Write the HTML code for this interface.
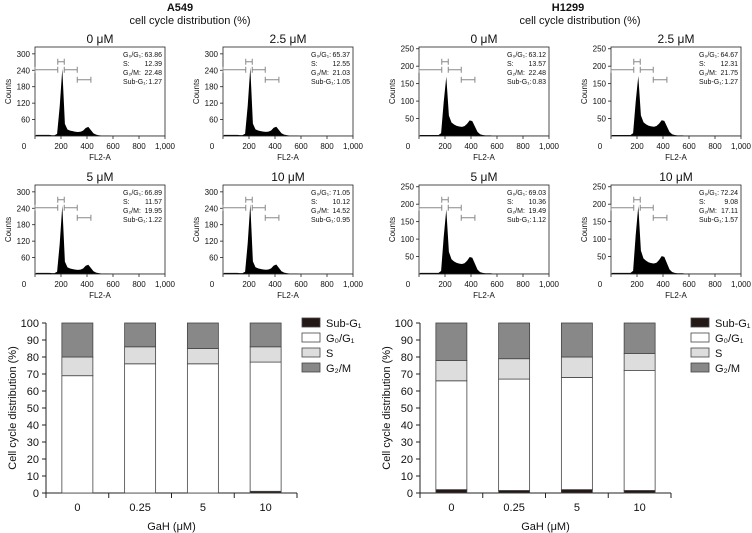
<!DOCTYPE html>
<html><head><meta charset="utf-8"><style>
html,body{margin:0;padding:0;background:#fff}
svg{display:block;font-family:"Liberation Sans",Arial,sans-serif}
</style></head><body>
<svg id="c" width="752" height="533" viewBox="0 0 752 533"></svg>
<script>
// ---- histogram data (counts per 20-unit FL2-A bin, 0..1000) ----
const histShapeA = [4,4,4,4,4,4,3,3,8,110,250,45,24,20,18,16,15,16,20,30,34,22,10,5,3,2,2,2,2,1,1,1,1,1,1,1,1,1,1,1,1,1,1,1,1,1,1,1,1,1];
const histShapeH = [3,3,3,3,3,3,3,3,8,100,175,60,40,34,30,28,27,29,36,46,44,28,12,5,3,2,2,2,1,1,1,1,1,1,1,1,1,1,1,1,1,1,1,1,1,1,1,1,1,1];
const panelTitles = ["0 μM","2.5 μM","5 μM","10 μM"];
const statsA = [["63.86","12.39","22.48","1.27"],["65.37","12.55","21.03","1.05"],["66.89","11.57","19.95","1.22"],["71.05","10.12","14.52","0.95"]];
const statsH = [["63.12","13.57","22.48","0.83"],["64.67","12.31","21.75","1.27"],["69.03","10.36","19.49","1.12"],["72.24","9.08","17.11","1.57"]];
const peaksA = [245,250,250,255];
const peaksH = [170,172,185,195];
const yTicksA = [60,120,180,240,300];
const yTicksH = [50,100,150,200,250];
const xTicks = [0,200,400,600,800,1000];
const xTickLabels = ["0","200","400","600","800","1,000"];
// ---- bar chart data (%) ----
const barCats = ["0","0.25","5","10"];
const subA = [0,0,0,1];
const g1A = [69,76,76,76];
const sA = [11,10,9,9];
const subH = [2,1.5,2,1.5];
const g1H = [64,65.5,66,70.5];
const sH = [12,12,12,10];
const barTicks = [0,10,20,30,40,50,60,70,80,90,100];

const svg=document.getElementById('c');
const NS="http://www.w3.org/2000/svg";
function mk(tag,at,parent){const e=document.createElementNS(NS,tag);for(const k in at)e.setAttribute(k,at[k]);(parent||svg).appendChild(e);return e;}
function txt(x,y,s,size,anchor,parent,extra){const t=mk('text',Object.assign({x:x,y:y,'font-size':size,'text-anchor':anchor||'start',fill:'#111'},extra||{}),parent);t.textContent=s;return t;}

let t;
t=txt(180,11,"A549",11,'middle',null,{'font-weight':'bold'});

t=txt(190,24,"cell cycle distribution (%)",11,'middle');

t=txt(568,11,"H1299",11,'middle',null,{'font-weight':'bold'});

t=txt(580,24,"cell cycle distribution (%)",11,'middle');


function histogram(bx,by,idx,shape,peak,ymax,yt,stats,name){
  const w=130,h=89;
  const g=mk('g',{});
  
  
  const X=v=>bx+v/1000*w, Y=v=>by+h-v/ymax*h;
  txt(bx+w/2,by-4,panelTitles[idx],12,'middle',g);
  const sm=Math.max(...shape);
  let d="M"+X(0)+","+Y(0);
  shape.forEach((c,i)=>{const v=c/sm*peak;d+=" L"+X(i*20+10)+","+Y(v);});
  d+=" L"+X(1000)+","+Y(0)+" Z";
  const p=mk('path',{d:d,fill:'#000'},g);
  
  
  mk('rect',{x:bx,y:by,width:w,height:h,fill:'none',stroke:'#222','stroke-width':0.8},g);
  yt.forEach(v=>{mk('line',{x1:bx-3,x2:bx,y1:Y(v),y2:Y(v),stroke:'#222','stroke-width':0.8},g);txt(bx-5,Y(v)+3,String(v),8,'end',g);});
  xTicks.forEach((v,i)=>{mk('line',{x1:X(v),x2:X(v),y1:by+h,y2:by+h+3,stroke:'#222','stroke-width':0.8},g);txt(i==0?bx-11:X(v),by+h+13,xTickLabels[i],8,'middle',g);});
  txt(bx+w/2,by+h+24,"FL2-A",8,'middle',g);
  txt(0,0,"Counts",8,'middle',g,{transform:`translate(${bx-24},${by+h/2}) rotate(-90)`});
  const gy=Y(ymax*0.745);
  const gates=[[0,175,gy],[175,225,gy-8],[225,325,gy],[325,430,gy+10]];
  gates.forEach(q=>{mk('path',{d:`M${X(q[0])},${q[2]} H${X(q[1])} M${X(q[0])},${q[2]-3} V${q[2]+3} M${X(q[1])},${q[2]-3} V${q[2]+3}`,stroke:'#888',fill:'none','stroke-width':1},g);});
  const labs=["G₀/G₁:","S:","G₂/M:","Sub-G₁:"];
  labs.forEach((l,i)=>{txt(bx+w-42,by+10+i*9,l,7,'start',g);txt(bx+w-3,by+10+i*9,stats[i],7,'end',g);});
}
const cols=[35,223,419,611],rows=[47,185];
for(let i=0;i<4;i++){
  histogram(cols[i%2],rows[Math.floor(i/2)],i,histShapeA,peaksA[i],325,yTicksA,statsA[i],'a549-histogram-'+i);
  histogram(cols[2+i%2],rows[Math.floor(i/2)],i,histShapeH,peaksH[i],255,yTicksH,statsH[i],'h1299-histogram-'+i);
}

function barChart(x0,x1,sub,g1,s,name,legX){
  const y0=493,y100=323;
  const g=mk('g',{});
  
  
  const Y=v=>y0-(v/100)*(y0-y100);
  const step=(x1-x0)/barCats.length, bw=31;
  mk('line',{x1:x0,x2:x0,y1:y100,y2:y0,stroke:'#222','stroke-width':1},g);
  mk('line',{x1:x0,x2:x1,y1:y0,y2:y0,stroke:'#222','stroke-width':1},g);
  barTicks.forEach(v=>{mk('line',{x1:x0-4,x2:x0,y1:Y(v),y2:Y(v),stroke:'#222'},g);txt(x0-7,Y(v)+4,String(v),11,'end',g);});
  for(let i=0;i<=barCats.length;i++)mk('line',{x1:x0+i*step,x2:x0+i*step,y1:y0,y2:y0+5,stroke:'#222'},g);
  barCats.forEach((c,i)=>{
    const cx=x0+step*(i+0.5), bx=cx-bw/2;
    const segs=[[0,sub[i],'#231815','sub-g1'],[sub[i],sub[i]+g1[i],'#fff','g0-g1'],[sub[i]+g1[i],sub[i]+g1[i]+s[i],'#ddd','s-phase'],[sub[i]+g1[i]+s[i],100,'#888','g2-m']];
    segs.forEach(sg=>{
      const r=mk('rect',{x:bx,y:Y(sg[1]),width:bw,height:Math.max(0,Y(sg[0])-Y(sg[1])),fill:sg[2],stroke:'#444','stroke-width':0.8},g);
      
      
    });
    txt(cx,y0+18,c,11,'middle',g);
  });
  txt((x0+x1)/2,y0+37,"GaH (μM)",11,'middle',g);
  txt(0,0,"Cell cycle distribution (%)",11,'middle',g,{transform:`translate(${x0-30},${(y0+y100)/2}) rotate(-90)`});
  const leg=[['#231815','Sub-G₁'],['#fff','G₀/G₁'],['#ddd','S'],['#888','G₂/M']];
  leg.forEach((l,i)=>{
    const r=mk('rect',{x:legX,y:318+i*15,width:18,height:9,fill:l[0],stroke:'#444','stroke-width':0.8},g);
    
    
    txt(legX+24,327+i*15,l[1],11,'start',g);
  });
}
barChart(46,297,subA,g1A,sA,'a549-bar-chart',302);
barChart(420,671,subH,g1H,sH,'h1299-bar-chart',691);
</script>
</body></html>
